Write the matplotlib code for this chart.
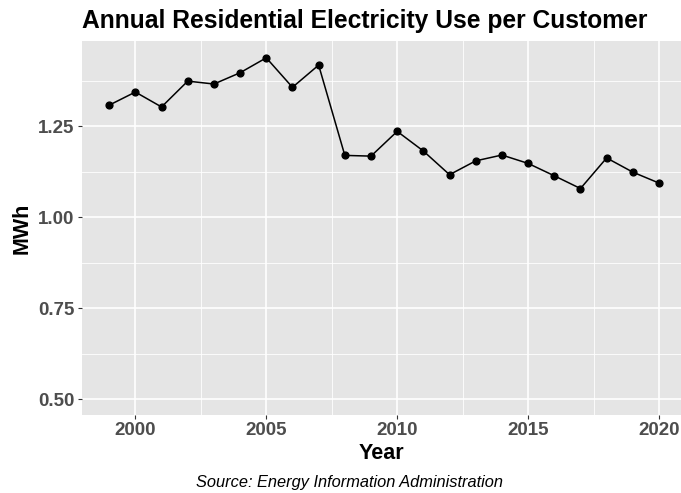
import matplotlib
matplotlib.use("Agg")
import matplotlib.pyplot as plt
from matplotlib.ticker import FixedLocator

# Annual residential electricity use per customer (MWh)
years = [1999, 2000, 2001, 2002, 2003, 2004, 2005, 2006, 2007, 2008, 2009,
         2010, 2011, 2012, 2013, 2014, 2015, 2016, 2017, 2018, 2019, 2020]
mwh = [1.308, 1.344, 1.303, 1.374, 1.366, 1.397, 1.438, 1.357, 1.418, 1.170, 1.168,
       1.236, 1.182, 1.117, 1.155, 1.171, 1.148, 1.114, 1.079, 1.163, 1.124, 1.094]

x_ticks = [2000, 2005, 2010, 2015, 2020]
y_ticks = [0.50, 0.75, 1.00, 1.25]
y_labels = ["0.50", "0.75", "1.00", "1.25"]

plt.rcParams["font.family"] = ["Liberation Sans", "DejaVu Sans"]

fig = plt.figure(figsize=(6.81, 4.93), dpi=100)
ax = fig.add_axes([81.7 / 681, 1 - 415 / 493, 1 - 81.7 / 681, (415 - 40.7) / 493])
ax.set_facecolor("#E5E5E5")

ax.plot(years, mwh, color="black", lw=1.1, zorder=3)
ax.scatter(years, mwh, s=24, color="black", zorder=4)

ax.set_xlim(1997.95, 2020.84)
ax.set_ylim(0.457, 1.485)

ax.xaxis.set_major_locator(FixedLocator(x_ticks))
ax.xaxis.set_minor_locator(FixedLocator([2002.5, 2007.5, 2012.5, 2017.5]))
ax.yaxis.set_major_locator(FixedLocator(y_ticks))
ax.yaxis.set_minor_locator(FixedLocator([0.625, 0.875, 1.125, 1.375]))
ax.set_yticklabels(y_labels)

ax.grid(which="major", color="white", lw=1.2)
ax.grid(which="minor", color="white", lw=0.6)
ax.set_axisbelow(True)
for s in ax.spines.values():
    s.set_visible(False)

ax.tick_params(which="major", length=2.7, width=0.8, color="#333333",
               labelcolor="#4D4D4D", labelsize=13.5, pad=2.5)
ax.tick_params(which="minor", length=0)
for lab in ax.get_xticklabels() + ax.get_yticklabels():
    lab.set_fontweight("bold")

ax.set_xlabel("Year", fontsize=15.5, fontweight="bold", labelpad=3)
ax.set_ylabel("MWh", fontsize=15.5, fontweight="bold", labelpad=4)

fig.text(82 / 681, 1 - 21 / 493, "Annual Residential Electricity Use per Customer",
         fontsize=17.7, fontweight="bold", ha="left", va="center")
fig.text(350 / 681, 1 - 483 / 493, "Source: Energy Information Administration",
         fontsize=11.8, style="italic", ha="center", va="center")

fig.savefig("out.png", dpi=100)
